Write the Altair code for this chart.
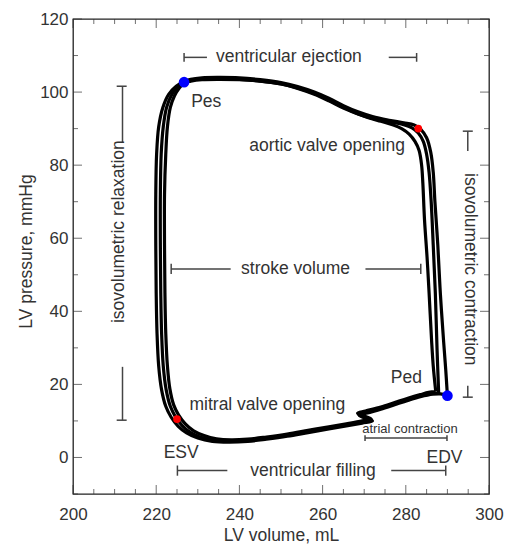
import altair as alt
import pandas as pd

FONT = "Liberation Sans"
TXT = "#333333"
LINE = "#444444"
W, H = 416, 475

# ---- pressure-volume loops (LV volume mL, LV pressure mmHg) ----
vol1 = [287.9, 287.5, 287.1, 286.6, 286.1, 285.6, 285.0, 284.2, 283.0, 281.5, 279.5, 276.0, 272.0, 268.5,
        265.0, 261.5, 258.0, 254.0, 250.0, 245.0, 240.0, 235.0, 231.0, 228.3, 226.7, 225.2, 223.7, 222.5,
        221.7, 221.2, 221.0, 221.0, 221.1, 221.3, 221.7, 222.4, 223.4, 224.6, 226.2, 228.0, 230.5, 233.5,
        237.5, 242.0, 246.5, 251.5, 256.5, 261.5, 265.7, 269.5, 271.8, 268.6, 270.5, 274.0, 277.5, 280.5,
        283.5, 286.0, 287.9]
pres1 = [17.6, 30.0, 45.0, 58.0, 70.0, 78.0, 83.0, 86.5, 88.8, 90.2, 91.1, 91.9, 92.8, 94.0,
         95.6, 97.6, 99.4, 101.0, 102.2, 103.0, 103.5, 103.7, 103.6, 103.2, 102.7, 101.4, 99.2, 95.8,
         90.5, 83.0, 72.0, 58.0, 45.0, 34.0, 25.0, 18.5, 14.0, 11.2, 8.8, 7.0, 5.6, 4.8,
         4.5, 4.7, 5.3, 6.1, 7.1, 8.1, 8.9, 9.7, 10.3, 11.8, 12.4, 13.5, 14.8, 15.9,
         16.9, 17.5, 17.6]

vol2 = [290.0, 289.6, 289.1, 288.3, 287.7, 287.0, 286.6, 286.0, 285.0, 283.6, 282.0, 279.5, 276.0, 272.0,
        268.5, 265.0, 261.5, 258.0, 254.0, 250.0, 245.0, 240.0, 235.0, 231.0, 228.3, 226.7, 224.8, 223.0,
        221.6, 220.6, 220.1, 219.9, 219.9, 220.0, 220.2, 220.6, 221.3, 222.3, 223.6, 225.3, 227.3, 230.0,
        233.5, 237.5, 242.0, 246.5, 251.5, 256.5, 261.5, 265.7, 269.5, 272.0, 268.8, 270.8, 274.0, 277.5,
        280.5, 283.5, 286.5, 288.3, 290.0]
pres2 = [16.9, 24.0, 31.6, 45.0, 58.0, 70.0, 78.0, 83.5, 87.5, 89.8, 91.0, 91.6, 92.3, 93.3,
         94.6, 96.3, 98.3, 100.0, 101.5, 102.6, 103.4, 103.9, 104.0, 103.9, 103.5, 102.9, 101.6, 99.4,
         95.8, 90.5, 83.0, 72.0, 58.0, 45.0, 34.0, 25.0, 18.5, 14.0, 11.0, 8.5, 6.7, 5.3,
         4.4, 4.2, 4.4, 5.0, 5.8, 6.8, 7.8, 8.6, 9.4, 10.0, 11.5, 12.2, 13.2, 14.5,
         15.6, 16.6, 17.3, 17.4, 16.9]

vol3 = [287.2, 286.6, 286.2, 285.6, 285.1, 284.5, 284.1, 283.8, 283.2, 282.2, 280.8, 279.0, 277.0, 274.0,
        271.0, 268.0, 265.0, 261.5, 258.0, 254.0, 250.0, 245.0, 240.0, 235.0, 231.0, 228.3, 226.7, 225.6,
        224.4, 223.4, 222.7, 222.3, 222.0, 222.0, 222.1, 222.3, 222.7, 223.3, 224.2, 225.4, 227.0, 229.0,
        231.5, 234.5, 238.0, 242.0, 246.5, 251.5, 256.5, 261.5, 265.7, 269.5, 271.6, 268.4, 270.3, 274.0,
        277.5, 280.5, 283.5, 285.5, 287.2]
pres3 = [18.0, 25.0, 32.0, 45.0, 55.0, 65.0, 75.0, 80.0, 84.0, 86.5, 88.5, 90.0, 91.0, 92.0,
         93.0, 94.3, 95.8, 97.8, 99.6, 101.1, 102.2, 103.0, 103.4, 103.5, 103.4, 103.0, 102.5, 101.2,
         99.0, 95.8, 90.5, 83.0, 72.0, 58.0, 45.0, 34.0, 25.0, 18.7, 14.4, 11.6, 9.2, 7.3,
         6.0, 5.1, 4.8, 5.0, 5.6, 6.4, 7.4, 8.4, 9.2, 10.0, 10.6, 12.1, 12.7, 13.8,
         15.1, 16.2, 17.2, 17.8, 18.0]

# ---- marked points ----
blue_vol = [226.7, 290.0]      # Pes, Ped
blue_pres = [102.7, 16.9]
red_vol = [283.0, 225.0]       # aortic valve opening, mitral valve opening
red_pres = [90.0, 10.5]

# ---- ticks ----
x_ticks = [200, 205, 210, 215, 220, 225, 230, 235, 240, 245, 250, 255, 260, 265, 270, 275, 280, 285, 290, 295, 300]
y_ticks = [-10, 0, 10, 20, 30, 40, 50, 60, 70, 80, 90, 100, 110, 120]
x_labels = [200, 220, 240, 260, 280, 300]
y_labels = [0, 20, 40, 60, 80, 100, 120]

# ---- annotation texts ----
c_text = ["ventricular ejection", "stroke volume", "ventricular filling", "ESV", "EDV"]
c_vol = [251.9, 253.5, 257.7, 226.0, 289.3]
c_pres = [108.2, 50.3, -5.1, -0.2, -1.5]
l_text = ["mitral valve opening", "Pes", "Ped"]
l_vol = [228.0, 228.4, 276.4]
l_pres = [12.9, 96.0, 20.4]
r_text = ["aortic valve opening"]
r_vol = [279.8]
r_pres = [83.9]
s_text = ["atrial contraction"]
s_vol = [281.0]
s_pres = [6.6]
up_text = ["isovolumetric relaxation"]
up_vol = [211.1]
up_pres = [61.8]
down_text = ["isovolumetric contraction"]
down_vol = [295.4]
down_pres = [51.5]

# ---- bracket segments ----
h_x1 = [226.7, 275.9, 223.6, 270.3, 225.1, 276.5, 270.2, 210.5, 210.5, 293.7, 293.7]
h_x2 = [232.2, 282.6, 237.9, 283.6, 237.1, 289.6, 289.9, 212.9, 212.9, 296.1, 296.1]
h_y = [109.5, 109.5, 51.6, 51.6, -3.6, -3.6, 5.3, 101.6, 10.2, 89.3, 16.5]
v_x = [226.7, 282.6, 223.6, 283.6, 225.1, 289.6, 270.2, 289.9, 211.9, 211.9, 294.9, 294.9]
v_y1 = [108.3, 108.3, 50.2, 50.2, -2.2, -2.2, 4.5, 4.5, 86.1, 10.2, 83.9, 16.5]
v_y2 = [110.7, 110.7, 53.0, 53.0, -5.0, -5.0, 6.1, 6.1, 101.6, 24.8, 89.3, 19.6]

# ---- data frames ----
rows = []
for name, vv, pp in (("a", vol1, pres1), ("b", vol2, pres2), ("c", vol3, pres3)):
    for i, (v, p) in enumerate(zip(vv, pp)):
        rows.append({"loop": name, "i": i, "vol": v, "pres": p})
loops = pd.DataFrame(rows)

XS = alt.Scale(domain=[200, 300], nice=False, zero=False)
YS = alt.Scale(domain=[-10, 120], nice=False, zero=False)

ax_bottom = alt.Axis(orient="bottom", values=x_labels, ticks=False, labelPadding=12, labelFlush=False,
                     labelOverlap=False, title="LV volume, mL", titleX=W / 2, titleY=46,
                     titleAlign="center", titleBaseline="alphabetic")
ax_left = alt.Axis(orient="left", values=y_labels, ticks=False, labelPadding=5, labelFlush=False,
                   labelOverlap=False, title="LV pressure, mmHg", titleX=-41.3, titleY=232,
                   titleAngle=-90, titleAlign="center", titleBaseline="alphabetic")


def xe(field, axis=None):
    return alt.X(field, type="quantitative", scale=XS, axis=axis)


def ye(field, axis=None):
    return alt.Y(field, type="quantitative", scale=YS, axis=axis)


loop_layer = alt.Chart(loops).mark_line(color="black", strokeWidth=3.2, interpolate="catmull-rom").encode(
    x=xe("vol", ax_bottom), y=ye("pres", ax_left), detail="loop:N", order="i:Q")

hr = alt.Chart(pd.DataFrame({"x1": h_x1, "x2": h_x2, "y": h_y})).mark_rule(
    color=LINE, strokeWidth=1.5).encode(x=xe("x1"), x2="x2", y=ye("y"))
vr = alt.Chart(pd.DataFrame({"x": v_x, "y1": v_y1, "y2": v_y2})).mark_rule(
    color=LINE, strokeWidth=1.5).encode(x=xe("x"), y=ye("y1"), y2="y2")


def text_layer(texts, vols, press, align, size=17.5, angle=0, baseline="alphabetic"):
    df = pd.DataFrame({"t": texts, "vol": vols, "pres": press})
    kw = dict(align=align, baseline=baseline, font=FONT, fontSize=size, color=TXT)
    if angle:
        kw["angle"] = angle
    return alt.Chart(df).mark_text(**kw).encode(x=xe("vol"), y=ye("pres"), text="t:N")


t_c = text_layer(c_text, c_vol, c_pres, "center")
t_l = text_layer(l_text, l_vol, l_pres, "left")
t_r = text_layer(r_text, r_vol, r_pres, "right")
t_s = text_layer(s_text, s_vol, s_pres, "center", size=13)
t_up = text_layer(up_text, up_vol, up_pres, "center", angle=270, baseline="middle")
t_dn = text_layer(down_text, down_vol, down_pres, "center", angle=90, baseline="middle")


# inward axis ticks on all four sides (major every 20, minor in between)
def x_ticks_layer(major, at_top):
    L = 9 if major else 5
    test = "datum.v % 20 === 0" if major else "datum.v % 20 !== 0"
    ypos = L / 2 if at_top else H - L / 2
    return alt.Chart(pd.DataFrame({"v": x_ticks})).transform_filter(test).mark_tick(
        orient="vertical", size=L, thickness=1, color="#333333").encode(
        x=xe("v"), y=alt.value(ypos))


def y_ticks_layer(major, at_right):
    L = 9 if major else 5
    test = "datum.v % 20 === 0" if major else "datum.v % 20 !== 0"
    xpos = W - L / 2 if at_right else L / 2
    return alt.Chart(pd.DataFrame({"v": y_ticks})).transform_filter(test).mark_tick(
        orient="horizontal", size=L, thickness=1, color="#333333").encode(
        y=ye("v"), x=alt.value(xpos))


tick_layers = [x_ticks_layer(m, t) for m in (True, False) for t in (True, False)] + \
              [y_ticks_layer(m, r) for m in (True, False) for r in (True, False)]

red = alt.Chart(pd.DataFrame({"vol": red_vol, "pres": red_pres})).mark_circle(
    color="#ff0000", size=60, opacity=1).encode(x=xe("vol"), y=ye("pres"))
blue = alt.Chart(pd.DataFrame({"vol": blue_vol, "pres": blue_pres})).mark_circle(
    color="#0000ff", size=115, opacity=1).encode(x=xe("vol"), y=ye("pres"))

chart = alt.layer(
    loop_layer, *tick_layers, hr, vr, t_c, t_l, t_r, t_s, t_up, t_dn, red, blue
).resolve_axis(
    x="independent", y="independent"
).properties(
    width=W, height=H,
    autosize=alt.AutoSizeParams(type="none"),
    padding={"left": 65, "top": 11, "right": 15, "bottom": 50},
).configure_view(
    stroke="#222222", strokeWidth=1.3
).configure_axis(
    grid=False, domain=False,
    labelFont=FONT, labelFontSize=17, labelColor=TXT,
    titleFont=FONT, titleFontSize=17.5, titleFontWeight="normal", titleColor=TXT,
)

chart.save("out.html", embed_options={"renderer": "svg", "actions": False})
